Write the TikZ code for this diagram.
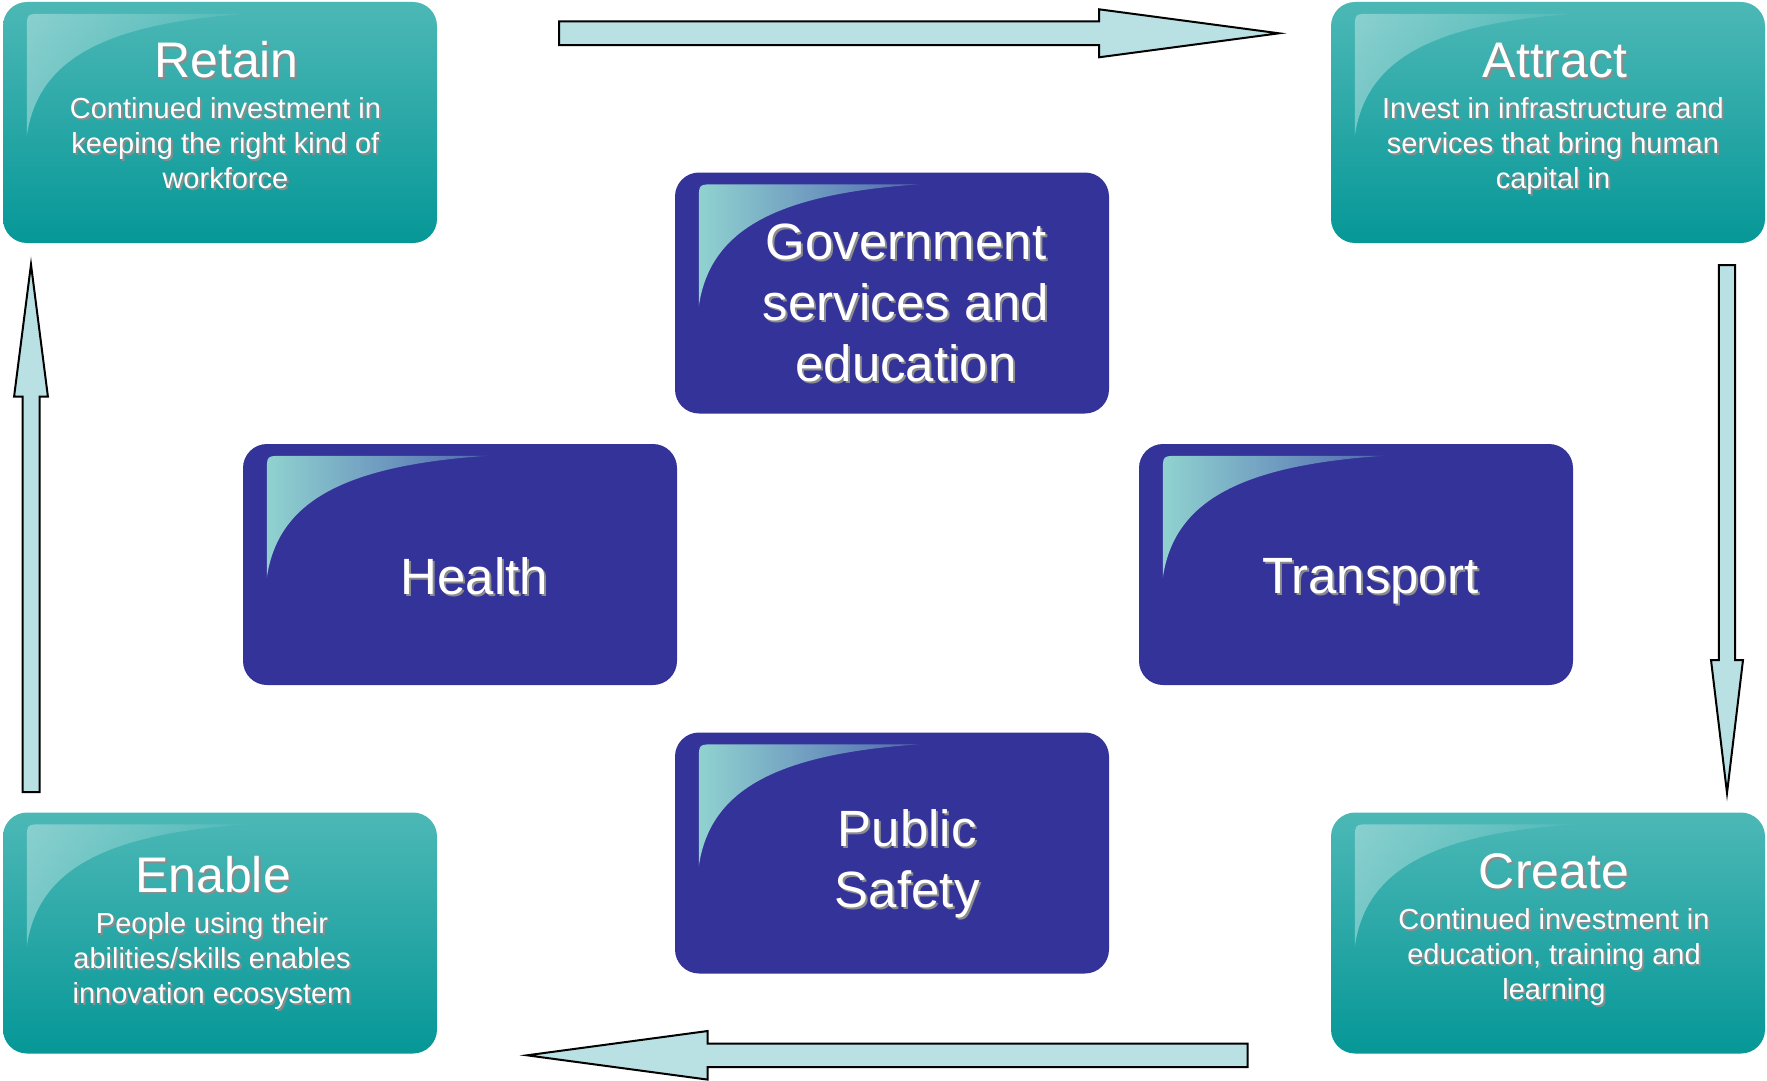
\documentclass[tikz,border=0pt]{standalone}
\usepackage{fontspec}
\setmainfont{Liberation Sans}
\usetikzlibrary{calc,fadings}

\definecolor{tealtop}{HTML}{4CB8B6}
\definecolor{tealbot}{HTML}{069797}
\definecolor{navy}{HTML}{343399}
\definecolor{arrowfill}{HTML}{B9E0E3}
\definecolor{hlA}{HTML}{90D2D0}
\definecolor{hlB}{HTML}{5068B0}
\definecolor{shadowgray}{HTML}{8C8C8C}

\tikzfading[name=hlfade, left color=transparent!0, right color=transparent!85]

\newcommand\TitleFont{\fontsize{50}{60}\selectfont}
\newcommand\SubFont{\fontsize{29}{35}\selectfont}
\newcommand\BlueFont{\fontsize{51}{61}\selectfont}

\tikzset{
  boxbase/.style={rounded corners=24pt, minimum width=434pt, minimum height=241pt, inner sep=0pt, draw=none},
  tealbox/.style={boxbase, top color=tealtop, bottom color=tealbot},
  navybox/.style={boxbase, fill=navy},
  tealgloss/.style={fill=white, fill opacity=0.36, path fading=hlfade},
  navygloss/.style={left color=hlA, right color=hlB},
  txtwhite/.style={text=white, align=center, inner sep=0pt},
  txtshadow/.style={text=shadowgray, align=center, inner sep=0pt},
  blockarrow/.style={draw=black, fill=arrowfill, line width=2pt, line join=miter}
}

\newcommand\glossy[2]{%
  \begin{scope}[shift={(#1.north west)}]
    \path[#2] (24,134) -- (24,28) .. controls (24,12) .. (40,12) -- (244,12)
      .. controls (100,22) and (35,58) .. (24,134) -- cycle;
  \end{scope}}

\newcommand\shtext[4]{%
  \node[txtshadow, font=#3] at ($(#2)+(2,2)$) {#4};
  \node[txtwhite, font=#3] (#1) at (#2) {#4};}

% #1 name prefix, #2 half shaft, #3 half head, #4 head length
\newcommand\blockarr[4]{%
  \coordinate (#1b) at ($(#1e)!#4pt!(#1s)$);
  \draw[blockarrow] ($(#1s)!#2pt!90:(#1e)$) -- ($(#1b)!#2pt!90:(#1e)$)
    -- ($(#1b)!#3pt!90:(#1e)$) -- (#1e) -- ($(#1b)!#3pt!-90:(#1e)$)
    -- ($(#1b)!#2pt!-90:(#1e)$) -- ($(#1s)!#2pt!-90:(#1e)$) -- cycle;}

\begin{document}
\begin{tikzpicture}[x=1pt, y=-1pt]
\useasboundingbox (0,0) rectangle (1767,1081);

% boxes
\node[tealbox] (retain) at (220,122.5) {};
\node[tealbox] (attract) at (1548,122.5) {};
\node[tealbox] (enable) at (220,933) {};
\node[tealbox] (create) at (1548,933) {};
\node[navybox] (gov) at (892,293) {};
\node[navybox] (health) at (460,564.5) {};
\node[navybox] (transport) at (1356,564.5) {};
\node[navybox] (safety) at (892,853) {};

\glossy{retain}{tealgloss}
\glossy{attract}{tealgloss}
\glossy{enable}{tealgloss}
\glossy{create}{tealgloss}
\glossy{gov}{navygloss}
\glossy{health}{navygloss}
\glossy{transport}{navygloss}
\glossy{safety}{navygloss}

% texts
\shtext{retainT}{226.5,59.7}{\TitleFont}{Retain}
\shtext{retainS}{225.4,143.4}{\SubFont}{Continued investment in\\keeping the right kind of\\workforce}
\shtext{attractT}{1555,60.5}{\TitleFont}{Attract}
\shtext{attractS}{1553,146}{\SubFont}{Invest in infrastructure and\\services that bring human\\capital in}
\shtext{enableT}{213,874.5}{\TitleFont}{Enable}
\shtext{enableS}{212,961.3}{\SubFont}{People using their\\abilities/skills enables\\innovation ecosystem}
\shtext{createT}{1554,871}{\TitleFont}{Create}
\shtext{createS}{1554,957.3}{\SubFont}{Continued investment in\\education, training and\\learning}
\shtext{govT}{906,303}{\BlueFont}{Government\\services and\\education}
\shtext{healthT}{474.4,575.8}{\BlueFont}{Health}
\shtext{transportT}{1370.3,580.8}{\BlueFont}{Transport}
\shtext{safetyT}{907.2,863.7}{\BlueFont}{Public\\Safety}

% arrows
\coordinate (tas) at (559,33.3);
\coordinate (tae) at (1279,33.3);
\blockarr{ta}{11.8}{24}{180}
\coordinate (ras) at (1727,265);
\coordinate (rae) at (1727,793);
\blockarr{ra}{8.2}{16}{133}
\coordinate (bas) at (1247.5,1055.3);
\coordinate (bae) at (527,1055.3);
\blockarr{ba}{11.8}{24.3}{180.7}
\coordinate (las) at (31,792);
\coordinate (lae) at (31,264.5);
\blockarr{la}{8.5}{16.9}{132}
\end{tikzpicture}
\end{document}
